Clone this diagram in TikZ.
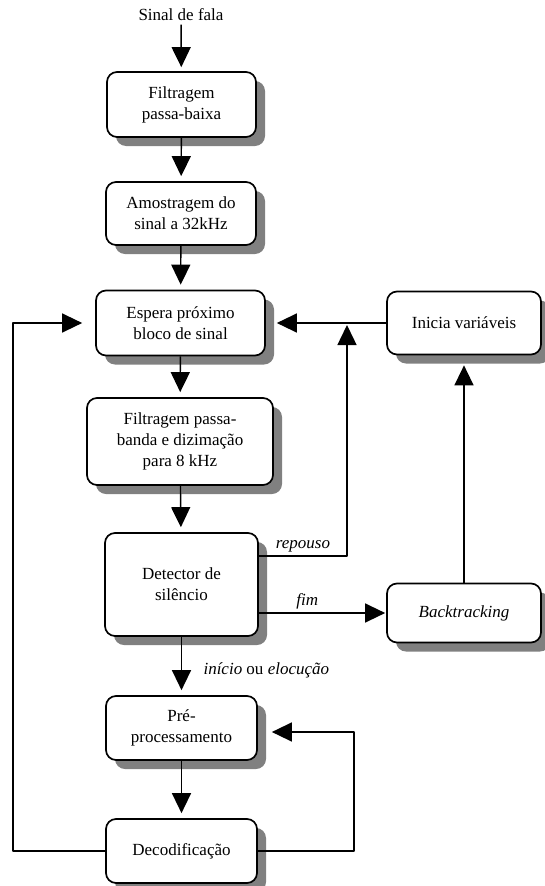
\documentclass[tikz,border=0pt]{standalone}
\usepackage{fontspec}
\setmainfont{Liberation Serif}
\usetikzlibrary{arrows.meta,shadows}
\begin{document}
\begin{tikzpicture}[x=1pt, y=-1pt, font=\fontsize{17}{21}\selectfont, line join=round,
  >={Triangle[length=20pt,width=19pt]},
  caixa/.style={draw, line width=1.7pt, rounded corners=10pt, fill=white, align=center, inner sep=0pt,
    drop shadow={shadow xshift=9pt, shadow yshift=-9pt, fill=black!50, opacity=1}},
  seta/.style={->, line width=1.4pt, shorten >=5pt}]
\useasboundingbox (0,0) rectangle (544,886);
\node (sinal) at (181,15) {Sinal de fala};
\node[caixa, minimum width=149pt, minimum height=65pt] (filt) at (181.5,104.5) {Filtragem\\passa-baixa};
\node[caixa, minimum width=150pt, minimum height=63pt] (amos) at (181,213.5) {Amostragem do\\sinal a 32kHz};
\node[caixa, minimum width=169pt, minimum height=65pt] (espera) at (180.5,323) {Espera próximo\\bloco de sinal};
\node[caixa, minimum width=154pt, minimum height=63pt] (ini) at (464,323) {Inicia variáveis};
\node[caixa, minimum width=186pt, minimum height=87pt] (fpb) at (180,441.5) {Filtragem passa-\\banda e dizimação\\para 8 kHz};
\node[caixa, minimum width=153pt, minimum height=103pt] (det) at (181.5,584.5) {Detector de\\silêncio};
\node[caixa, minimum width=154pt, minimum height=59pt] (back) at (464,613) {\textit{Backtracking}};
\node[caixa, minimum width=151pt, minimum height=64pt] (pre) at (181.5,728) {Pré-\\processamento};
\node[caixa, minimum width=151pt, minimum height=64pt] (dec) at (181.5,851) {Decodificação};
\coordinate (junc) at (347,325);
% fluxo principal
\draw[seta, shorten >=4pt] (sinal) -- (filt);
\draw[seta] (filt) -- (amos);
\draw[seta] (amos) -- (espera);
\draw[seta] (espera) -- (fpb);
\draw[seta] (fpb) -- (det);
\draw[seta] (det) -- (pre) node[pos=0.58, right=18pt] {\textit{início} ou \textit{elocução}};
\draw[seta] (pre) -- (dec);
% ramos do detector
\draw[seta, shorten >=11pt] (ini) -- (espera);
\draw[seta, shorten >=0pt] ([yshift=28.5pt]det.east) -| (junc) node[pos=0.25, above] {\textit{repouso}};
\draw[seta, shorten >=1pt] (det.east |- back) -- (back) node[pos=0.38, above] {\textit{fim}};
\draw[seta, shorten >=10pt] (back) -- (ini);
% realimentacao
\draw[seta, shorten >=14pt] (dec.east) -- (354,851) |- ([yshift=-4pt]pre.east);
\draw[seta, shorten >=13pt] (dec.west) -- (13,851) |- (espera);
\end{tikzpicture}
\end{document}
